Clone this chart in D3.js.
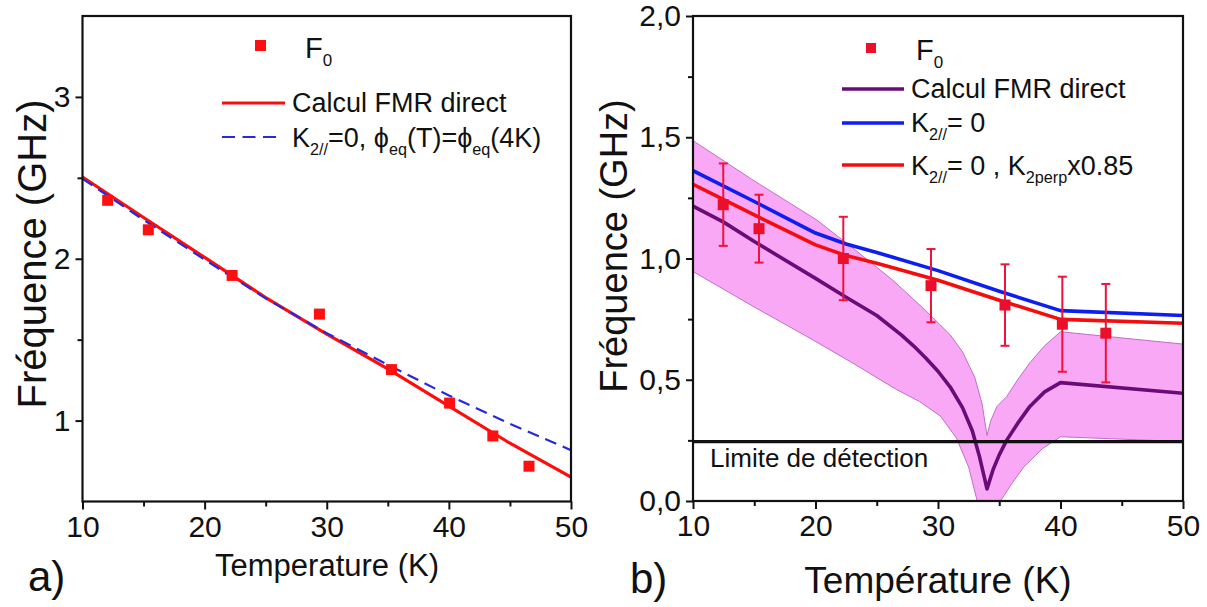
<!DOCTYPE html>
<html><head><meta charset="utf-8">
<script src="https://cdn.jsdelivr.net/npm/d3@7"></script>
<style>
body{margin:0;background:#fff}
svg{display:block}
text{font-family:"Liberation Sans",Arial,sans-serif;fill:#111}
</style>
</head><body>
<svg id="c" width="1207" height="607"></svg>
<script>
// ---------- Panel a data ----------
const aTicksX = [10, 20, 30, 40, 50];
const aMinorX = [15, 25, 35, 45];
const aTicksY = [1, 2, 3];
const aMinorY = [1.5, 2.5];
const aPtsT = [12.06, 15.39, 22.25, 29.4, 35.3, 40.06, 43.6, 46.56];
const aPtsF = [2.361, 2.179, 1.897, 1.658, 1.315, 1.108, 0.905, 0.718];
const aFmrT = [10, 15, 20, 25, 30, 35, 40, 45, 50];
const aFmrF = [2.505, 2.255, 2.008, 1.76, 1.535, 1.32, 1.09, 0.86, 0.651];
const aK2T = [10, 15, 20, 25, 30, 35, 40, 45, 50];
const aK2F = [2.495, 2.24, 1.995, 1.755, 1.54, 1.345, 1.155, 0.98, 0.817];

// ---------- Panel b data ----------
const bTicksX = [10, 20, 30, 40, 50];
const bMinorX = [15, 25, 35, 45];
const bTicksY = [0, 0.5, 1, 1.5, 2];
const bTickLabelsY = ["0,0", "0,5", "1,0", "1,5", "2,0"];
const bMinorY = [0.25, 0.75, 1.25, 1.75];
const bPtsT = [12.47, 15.39, 22.27, 29.43, 35.47, 40.15, 43.7];
const bPtsF = [1.222, 1.123, 1.0, 0.888, 0.808, 0.729, 0.692];
const bErr = [0.17, 0.14, 0.172, 0.151, 0.168, 0.196, 0.203];
const bFmrT = [10, 12.5, 15, 20, 22.5, 25, 27, 28, 29, 30, 31, 32, 32.8, 33.4, 34, 34.5, 35, 35.6, 36.5, 37.5, 38.7, 40, 50];
const bFmrF = [1.216, 1.15, 1.07, 0.918, 0.84, 0.765, 0.685, 0.64, 0.59, 0.535, 0.47, 0.385, 0.29, 0.18, 0.05, 0.13, 0.19, 0.25, 0.32, 0.39, 0.45, 0.488, 0.444];
const bK2T = [10, 15, 20, 22.5, 25, 30, 35, 40, 50];
const bK2F = [1.362, 1.235, 1.105, 1.06, 1.025, 0.95, 0.865, 0.785, 0.765];
const bK2pT = [10, 15, 20, 22.5, 25, 30, 35, 40, 50];
const bK2pF = [1.306, 1.18, 1.056, 1.012, 0.98, 0.91, 0.828, 0.749, 0.733];
const bBandUpT = [10, 15, 20.1, 23, 26.3, 29, 31, 32, 33, 33.6, 34, 34.3, 34.8, 35.6, 36.5, 37.5, 38.7, 40, 50];
const bBandUpF = [1.486, 1.32, 1.159, 1.045, 0.911, 0.785, 0.685, 0.615, 0.51, 0.40, 0.27, 0.33, 0.389, 0.43, 0.5, 0.57, 0.64, 0.698, 0.647];
const bBandLoT = [10, 15, 19.8, 23, 26.6, 28.5, 30.2, 31.5, 32.5, 33.2, 34, 35.1, 36, 37, 38.5, 40, 45, 50];
const bBandLoF = [0.946, 0.80, 0.664, 0.57, 0.46, 0.41, 0.35, 0.26, 0.14, 0.0, -0.2, 0.0, 0.07, 0.14, 0.215, 0.265, 0.255, 0.245];
const bLimit = 0.245;

const svg = d3.select("#c");
const FONT_TICK = 30;

function drawFrame(g, x, y, ticksX, minorX, ticksY, minorY, fmtY) {
  const [x0, x1] = x.range();
  const [y0, y1] = y.range();
  g.append("g").attr("transform", `translate(0,${y0})`)
    .call(d3.axisBottom(x).tickValues(minorX).tickSize(5).tickFormat("").tickSizeOuter(0))
    .call(s => { s.select(".domain").remove(); s.selectAll("line").attr("stroke", "#111").attr("stroke-width", 2); });
  g.append("g").attr("transform", `translate(${x0},0)`)
    .call(d3.axisLeft(y).tickValues(minorY).tickSize(5).tickFormat("").tickSizeOuter(0))
    .call(s => { s.select(".domain").remove(); s.selectAll("line").attr("stroke", "#111").attr("stroke-width", 2); });
  g.append("g").attr("transform", `translate(0,${y0})`)
    .call(d3.axisBottom(x).tickValues(ticksX).tickSize(8).tickPadding(6).tickSizeOuter(0))
    .call(s => {
      s.select(".domain").remove();
      s.selectAll("line").attr("stroke", "#111").attr("stroke-width", 2);
      s.selectAll("text").attr("font-size", FONT_TICK).attr("font-family", null).attr("fill", "#111");
    });
  g.append("g").attr("transform", `translate(${x0},0)`)
    .call(d3.axisLeft(y).tickValues(ticksY).tickSize(7).tickPadding(5).tickFormat(fmtY).tickSizeOuter(0))
    .call(s => {
      s.select(".domain").remove();
      s.selectAll("line").attr("stroke", "#111").attr("stroke-width", 2);
      s.selectAll("text").attr("font-size", FONT_TICK).attr("font-family", null).attr("fill", "#111");
    });
  g.append("rect").attr("x", x0).attr("y", y1).attr("width", x1 - x0).attr("height", y0 - y1)
    .attr("fill", "none").attr("stroke", "#111").attr("stroke-width", 2.2);
}

function rich(g, xPos, yPos, parts, size) {
  const t = g.append("text").attr("x", xPos).attr("y", yPos).attr("font-size", size);
  let shift = 0;
  parts.forEach(p => {
    const sub = typeof p !== "string";
    const txt = sub ? p.s : p;
    const target = sub ? 8 : 0;
    t.append("tspan").attr("dy", target - shift).attr("font-size", sub ? size * 0.6 : size).text(txt);
    shift = target;
  });
  return t;
}

// ================= Panel a =================
{
  const x = d3.scaleLinear().domain([10, 50]).range([82.5, 571]);
  const y = d3.scaleLinear().domain([0.5, 3.5]).range([501.5, 16]);
  const g = svg.append("g");
  svg.append("clipPath").attr("id", "clipA").append("rect")
    .attr("x", 82.5).attr("y", 16).attr("width", 571 - 82.5).attr("height", 501.5 - 16);
  const plot = g.append("g").attr("clip-path", "url(#clipA)");
  const line = d3.line().x(d => x(d[0])).y(d => y(d[1]));
  plot.append("path").datum(aFmrT.map((t, i) => [t, aFmrF[i]]))
    .attr("d", line).attr("fill", "none").attr("stroke", "#ff0d0d").attr("stroke-width", 3.2);
  plot.append("path").datum(aK2T.map((t, i) => [t, aK2F[i]]))
    .attr("d", line).attr("fill", "none").attr("stroke", "#2828dc").attr("stroke-width", 2.2)
    .attr("stroke-dasharray", "12,7");
  const s = 11;
  plot.selectAll("rect.pt").data(aPtsT.map((t, i) => [t, aPtsF[i]])).enter().append("rect")
    .attr("x", d => x(d[0]) - s / 2).attr("y", d => y(d[1]) - s / 2)
    .attr("width", s).attr("height", s).attr("fill", "#ff1010");
  drawFrame(g, x, y, aTicksX, aMinorX, aTicksY, aMinorY, d3.format("d"));

  g.append("rect").attr("x", 255).attr("y", 40).attr("width", 11).attr("height", 11).attr("fill", "#ff1010");
  rich(g, 305, 58, ["F", { s: "0" }], 29).select("tspan:nth-child(2)").attr("font-size", 17);
  g.append("line").attr("x1", 222).attr("x2", 285).attr("y1", 103).attr("y2", 103)
    .attr("stroke", "#ff0d0d").attr("stroke-width", 3.2);
  g.append("text").attr("x", 292).attr("y", 112).attr("font-size", 27).text("Calcul FMR direct");
  g.append("line").attr("x1", 222).attr("x2", 277).attr("y1", 137).attr("y2", 137)
    .attr("stroke", "#2828dc").attr("stroke-width", 2.2).attr("stroke-dasharray", "13,7.5");
  rich(g, 292, 147, ["K", { s: "2//" }, "=0, \u03D5", { s: "eq" }, "(T)=\u03D5", { s: "eq" }, "(4K)"], 27);

  g.append("text").attr("transform", "translate(46,254) rotate(-90)").attr("text-anchor", "middle")
    .attr("font-size", 40).text("Fréquence (GHz)");
  g.append("text").attr("x", 327).attr("y", 576).attr("text-anchor", "middle")
    .attr("font-size", 31).text("Temperature (K)");
  g.append("text").attr("x", 28).attr("y", 591).attr("font-size", 42).text("a)");
}

// ================= Panel b =================
{
  const x = d3.scaleLinear().domain([10, 50]).range([693, 1183]);
  const y = d3.scaleLinear().domain([0, 2]).range([501, 16]);
  const g = svg.append("g");
  svg.append("clipPath").attr("id", "clipB").append("rect")
    .attr("x", 693).attr("y", 16).attr("width", 1183 - 693).attr("height", 501 - 16);
  const plot = g.append("g").attr("clip-path", "url(#clipB)");
  const line = d3.line().x(d => x(d[0])).y(d => y(d[1]));

  const up = bBandUpT.map((t, i) => [t, bBandUpF[i]]);
  const lo = bBandLoT.map((t, i) => [t, bBandLoF[i]]).reverse();
  plot.append("path").datum(up.concat(lo))
    .attr("d", d => line(d) + "Z").attr("fill", "#f8a8f5").attr("stroke", "#c070c8").attr("stroke-width", 1);

  plot.append("path").datum(bFmrT.map((t, i) => [t, bFmrF[i]]))
    .attr("d", line).attr("fill", "none").attr("stroke", "#6a0c78").attr("stroke-width", 3.6)
    .attr("stroke-linejoin", "round");
  plot.append("path").datum(bK2T.map((t, i) => [t, bK2F[i]]))
    .attr("d", line).attr("fill", "none").attr("stroke", "#0d1ef0").attr("stroke-width", 3.6)
    .attr("stroke-linejoin", "round");
  plot.append("path").datum(bK2pT.map((t, i) => [t, bK2pF[i]]))
    .attr("d", line).attr("fill", "none").attr("stroke", "#f50d0d").attr("stroke-width", 3.6)
    .attr("stroke-linejoin", "round");

  plot.append("line").attr("x1", x(10)).attr("x2", x(50)).attr("y1", y(bLimit)).attr("y2", y(bLimit))
    .attr("stroke", "#111").attr("stroke-width", 3.2);

  const pts = bPtsT.map((t, i) => ({ t, f: bPtsF[i], e: bErr[i] }));
  const eb = plot.selectAll("g.eb").data(pts).enter().append("g").attr("stroke", "#f0123c").attr("stroke-width", 2);
  eb.append("line").attr("x1", d => x(d.t)).attr("x2", d => x(d.t)).attr("y1", d => y(d.f - d.e)).attr("y2", d => y(d.f + d.e));
  eb.append("line").attr("x1", d => x(d.t) - 4.5).attr("x2", d => x(d.t) + 4.5).attr("y1", d => y(d.f + d.e)).attr("y2", d => y(d.f + d.e));
  eb.append("line").attr("x1", d => x(d.t) - 4.5).attr("x2", d => x(d.t) + 4.5).attr("y1", d => y(d.f - d.e)).attr("y2", d => y(d.f - d.e));
  const s = 11;
  plot.selectAll("rect.pt").data(pts).enter().append("rect")
    .attr("x", d => x(d.t) - s / 2).attr("y", d => y(d.f) - s / 2)
    .attr("width", s).attr("height", s).attr("fill", "#ec0f2c");

  drawFrame(g, x, y, bTicksX, bMinorX, bTicksY, bMinorY, (d) => bTickLabelsY[bTicksY.indexOf(d)]);

  g.append("text").attr("x", 710).attr("y", 467).attr("font-size", 26).text("Limite de détection");

  g.append("rect").attr("x", 866).attr("y", 43).attr("width", 10).attr("height", 10).attr("fill", "#ec0f2c");
  rich(g, 916, 60, ["F", { s: "0" }], 29).select("tspan:nth-child(2)").attr("font-size", 17);
  g.append("line").attr("x1", 842).attr("x2", 904).attr("y1", 89).attr("y2", 89)
    .attr("stroke", "#6a0c78").attr("stroke-width", 3.6);
  g.append("text").attr("x", 911).attr("y", 98).attr("font-size", 27).text("Calcul FMR direct");
  g.append("line").attr("x1", 842).attr("x2", 904).attr("y1", 123).attr("y2", 123)
    .attr("stroke", "#0d1ef0").attr("stroke-width", 3.6);
  rich(g, 911, 132, ["K", { s: "2//" }, "= 0"], 27);
  g.append("line").attr("x1", 842).attr("x2", 904).attr("y1", 165).attr("y2", 165)
    .attr("stroke", "#f50d0d").attr("stroke-width", 3.6);
  rich(g, 911, 175, ["K", { s: "2//" }, "= 0 , K", { s: "2perp" }, "x0.85"], 27);

  g.append("text").attr("transform", "translate(627,246) rotate(-90)").attr("text-anchor", "middle")
    .attr("font-size", 38).text("Fréquence (GHz)");
  g.append("text").attr("x", 938).attr("y", 593).attr("text-anchor", "middle")
    .attr("font-size", 37).text("Température (K)");
  g.append("text").attr("x", 630).attr("y", 593).attr("font-size", 42).text("b)");
}
</script>
</body></html>
